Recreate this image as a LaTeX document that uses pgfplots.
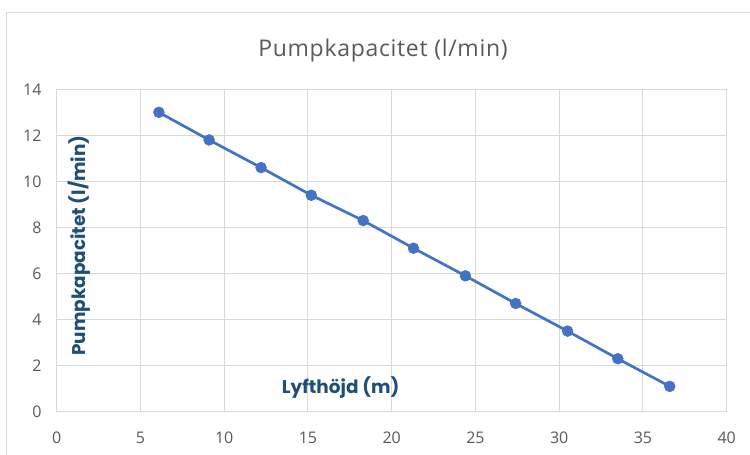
\documentclass[border=0pt]{standalone}
\usepackage{pgfplots}
\pgfplotsset{compat=1.18}
\usepackage{fontspec}
\setmainfont{Open Sans}
\newfontfamily\labfont{Poppins}
\definecolor{gridc}{HTML}{D9D9D9}
\definecolor{txtgray}{HTML}{595959}
\definecolor{serblue}{HTML}{4472C4}
\definecolor{labblue}{HTML}{1F4E79}
\begin{document}
\begin{tikzpicture}
\draw[gridc, line width=1pt] (-49.7pt,-120pt) -- (-49.7pt,398.7pt) -- (760pt,398.7pt);
\begin{axis}[
 at={(0,0)}, anchor=south west,
 width=670pt, height=322.4pt, scale only axis,
 xmin=0, xmax=40, ymin=0, ymax=14,
 xtick={0,5,...,40}, ytick={0,2,...,14},
 grid=major, grid style={gridc, line width=1pt},
 axis line style={gridc, line width=1pt},
 major tick length=0pt,
 tick label style={font=\fontsize{16}{18}\selectfont, text=txtgray, inner sep=0pt},
 /pgf/number format/assume math mode=true,
 xticklabel style={anchor=north, yshift=-20pt},
 yticklabel style={anchor=east, xshift=-15pt},
 clip=false,
]
\addplot[serblue, line width=2.7pt, mark=*, mark size=5.4pt,
  mark options={fill=serblue, draw=serblue, line width=0.6pt}] coordinates {
 (6.1,13.0) (9.1,11.8) (12.2,10.6) (15.2,9.4) (18.3,8.3) (21.3,7.1)
 (24.4,5.9) (27.4,4.7) (30.5,3.5) (33.5,2.3) (36.6,1.1)
};
\end{axis}
\node[anchor=base, text=txtgray, font=\fontsize{23}{27}\selectfont, inner sep=0pt] at (326.3pt,355pt) {\addfontfeatures{LetterSpace=3}Pumpkapacitet (l/min)};
\node[anchor=base, rotate=90, text=labblue, font=\labfont\bfseries\fontsize{18.4}{22}\selectfont, inner sep=0pt] at (28.3pt,166.2pt) {Pumpkapacitet (l/min)};
\node[anchor=base, text=labblue, font=\labfont\bfseries\fontsize{18.4}{22}\selectfont, inner sep=0pt] at (284pt,17.7pt) {Lyfthöjd (m)};
\pgfresetboundingbox
\path[use as bounding box] (-56.7pt,-43.3pt) rectangle (693.3pt,411.7pt);
\end{tikzpicture}
\end{document}
